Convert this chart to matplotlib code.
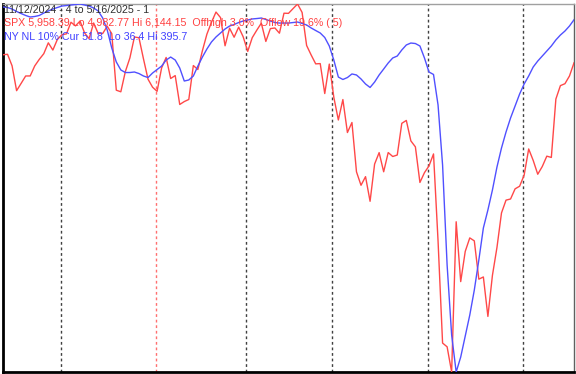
import matplotlib
matplotlib.use("Agg")
import matplotlib.pyplot as plt
import numpy as np

# SPX daily closes, 11/12/2024 .. 5/16/2025
spx = [5983.99, 5985.38, 5949.17, 5870.62, 5893.62, 5916.98, 5917.11, 5948.71, 5969.34, 5987.37,
       6021.63, 5998.74, 6032.38,
       6047.15, 6049.88, 6086.49, 6075.11, 6090.27, 6052.85, 6034.91, 6084.19, 6051.25, 6051.09,
       6074.08, 6050.61, 5872.16, 5867.08, 5930.85, 5974.07, 6040.04, 6037.59, 5970.84, 5906.94,
       5881.63,
       5868.55, 5942.47, 5975.38, 5909.03, 5918.25, 5827.04, 5836.22, 5842.91, 5949.91, 5937.34,
       5996.66, 6049.24, 6086.37, 6118.71, 6101.24, 6012.28, 6067.70, 6039.31, 6071.17, 6040.53,
       5994.57, 6037.88, 6061.48, 6083.57, 6025.99, 6066.44, 6068.50, 6051.97, 6115.07, 6114.63,
       6129.58, 6144.15, 6117.52, 6013.13, 5983.25, 5955.25, 5956.06, 5861.57, 5954.50,
       5849.72, 5778.15, 5842.63, 5738.52, 5770.20, 5614.56, 5572.07, 5599.30, 5521.52, 5638.94,
       5675.12, 5614.66, 5675.29, 5662.89, 5667.56, 5767.57, 5776.65, 5712.20, 5693.31, 5580.94,
       5611.85,
       5633.07, 5670.97, 5396.52, 5074.08, 5062.25, 4982.77, 5456.90, 5268.05, 5363.36, 5405.97,
       5396.63, 5275.70, 5282.70, 5158.20, 5287.76, 5375.86, 5484.77, 5525.21, 5528.75, 5560.83,
       5569.06,
       5604.14, 5686.67, 5650.38, 5606.91, 5631.28, 5663.94, 5659.91, 5844.19, 5886.55, 5892.58,
       5916.93, 5958.39]

# NYSE new lows, 10% smoothing (plotted inverted)
nl = [39.3, 39.8, 41.3, 43.7, 45.7, 47.6, 49.1, 48.6, 47.6, 45.2,
      43.2, 41.3, 39.8, 38.4, 37.9, 37.4, 36.9, 36.4, 37.4, 38.4,
      40.3, 43.2, 50.1, 61.8, 79.4, 93.0, 100.8, 103.3, 103.3, 102.8,
      104.3, 106.7, 108.2, 103.8, 100.4, 97.0, 91.1, 88.2, 91.1, 98.9,
      111.6, 110.6, 106.7, 97.0, 88.2, 80.3, 73.5, 68.6, 64.7, 60.8,
      57.9, 56.4, 54.5, 53.0, 52.0, 51.0, 50.6, 50.1, 51.5, 53.0,
      54.5, 55.0, 55.0, 55.0, 54.5, 54.0, 55.4, 56.9, 59.8, 62.3,
      64.7, 69.1, 77.4, 91.1, 107.7, 110.1, 108.2, 104.7, 105.7, 109.6,
      114.5, 117.9, 112.6, 105.7, 99.9, 94.0, 89.1, 87.2, 81.3, 76.4,
      74.5, 75.0, 77.4, 89.1, 102.8, 105.2, 135.0, 193.6, 291.2, 359.6,
      395.7, 381.1, 360.6, 340.1, 315.7, 286.4, 255.1, 237.5, 218.0, 195.6,
      177.0, 161.4, 147.7, 136.0, 124.3, 114.5, 106.7, 97.9, 92.1, 87.2,
      82.3, 77.4, 71.5, 66.7, 62.8, 57.9, 51.8]

# first trading day of each month (index into the series)
month_starts = [13, 34, 54, 73, 94, 115]
year_start = 34

title = "11/12/2024 - 4 to 5/16/2025 - 1"
spx_label = "SPX 5,958.39 Lo 4,982.77 Hi 6,144.15  Offhigh 3.0%  Offlow 19.6% ( 5)"
nl_label = "NY NL 10% Cur 51.8  Lo 36.4 Hi 395.7"

x = np.arange(len(spx))

fig = plt.figure(figsize=(5.76, 3.74), dpi=100)
ax = fig.add_axes([3 / 576, 2 / 374, 571 / 576, 368 / 374])
ax.set_xlim(0, len(spx) - 1)
ax.set_ylim(min(spx), max(spx))

for m in month_starts:
    col = "#ff7070" if m == year_start else "#404040"
    ax.axvline(m - 0.3, color=col, lw=1, ls=(0, (2, 2)), zorder=1)

ax.plot(x, spx, color="#ff4848", lw=1, zorder=3)

ax2 = ax.twinx()
ax2.set_ylim(max(nl), min(nl))
ax2.plot(x, nl, color="#5050ff", lw=1, zorder=3)

for a in (ax, ax2):
    a.set_xticks([])
    a.set_yticks([])
    for s in a.spines.values():
        s.set_visible(False)

ax.spines["left"].set_visible(True)
ax.spines["left"].set_color("black")
ax.spines["left"].set_linewidth(2)
ax.spines["bottom"].set_visible(True)
ax.spines["bottom"].set_color("black")
ax.spines["bottom"].set_linewidth(2)
ax.spines["top"].set_visible(True)
ax.spines["top"].set_color("#a0a0a0")
ax.spines["top"].set_linewidth(1)
ax.spines["right"].set_visible(True)
ax.spines["right"].set_color("#606060")
ax.spines["right"].set_linewidth(1)

font = dict(family="Liberation Sans", fontsize=7.7, transform=fig.transFigure,
            va="center", ha="left", zorder=5)
fig.text(4 / 576, 1 - 10 / 374, title, color="#303030", **font)
fig.text(4 / 576, 1 - 23.5 / 374, spx_label, color="#ff4040", **font)
fig.text(4 / 576, 1 - 37 / 374, nl_label, color="#4040ff", **font)

fig.savefig("out.png", dpi=100)
